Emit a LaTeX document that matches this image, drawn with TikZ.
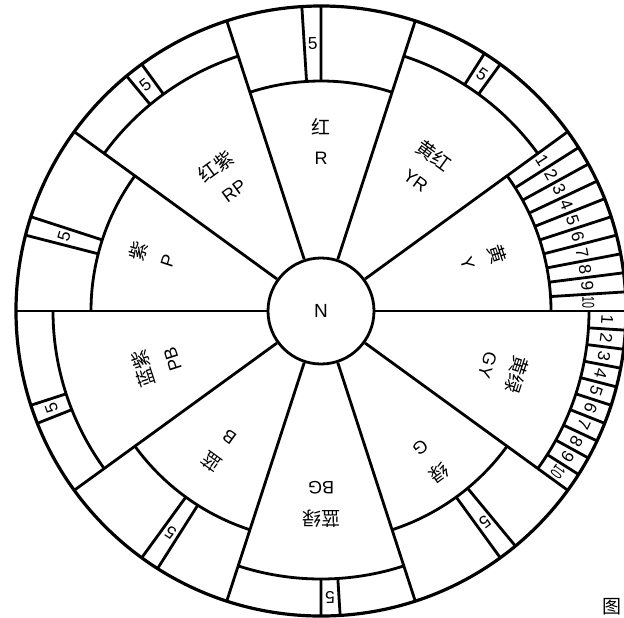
\documentclass[tikz,border=0pt]{standalone}
\usepackage{fontspec}
\setmainfont{Liberation Sans}
\newfontfamily\cjk{Noto Sans CJK SC}
\usetikzlibrary{calc}
\newcommand{\cellnum}[1]{\ifnum#1=10 \scalebox{0.62}[1]{10}\else #1\fi}

\begin{document}
\begin{tikzpicture}[x=0.5pt,y=0.5pt,
  rim/.style={line width=1.6pt},
  edge/.style={line width=1.4pt},
  digit/.style={font=\fontsize{8.6}{9}\selectfont,inner sep=0pt},
  hue/.style={font=\fontsize{9}{9}\selectfont,inner sep=0pt},
  huecn/.style={font=\cjk\fontsize{9.5}{10}\selectfont,inner sep=0pt}]
  \useasboundingbox (-321,-306) rectangle (303,311);
  \clip (-321,-306) rectangle (303,311);
  % rim and neutral core
  \draw[rim] (0,0) circle (305);
  \node[draw,edge,circle,minimum size=53pt,inner sep=0pt,font=\fontsize{9.5}{9}\selectfont] (N) at (0,0) {N};
  \foreach \a in {0,36,...,324} \draw[edge] (N.\a) -- (\a:305);
  % hue sectors: centre / inner radius / label radius / names
  \foreach \c/\r/\l/\cn/\en in {18/230/169/黄/Y,54/268/176/黄红/YR,90/230/168/红/R,126/268/163/红紫/RP,
      162/230/176/紫/P,198/268/171/蓝紫/PB,234/230/171/蓝/B,270/268/192/蓝绿/BG,306/230/184/绿/G,342/268/190/黄绿/GY} {
    \draw[edge] ({\c-18}:\r) arc[start angle=\c-18,end angle=\c+18,radius=\r];
    \node[huecn,rotate=\c-90] (cn-\en) at (\c:{\l+16}) {\cn};
    \node[hue,rotate=\c-90] (en-\en) at (\c:{\l-15}) {\en};
  }
  % step 5 only
  \foreach \c/\r/\en in {54/268/YR,90/230/R,126/268/RP,162/230/P,198/268/PB,234/230/B,270/268/BG,306/230/G} {
    \draw[edge] (\c:\r) -- (\c:305) ({\c+3.6}:\r) -- ({\c+3.6}:305);
    \node[digit,rotate=\c-88.2] (five-\en) at ({\c+1.8}:{(\r+305)/2}) {5};
  }
  % full scales 1--10
  \foreach \c/\r/\en in {18/230/Y,342/268/GY} {
    \foreach \k in {1,...,10} {
      \ifnum\k<10 \draw[edge] ({\c+18-3.6*\k}:\r) -- ({\c+18-3.6*\k}:305);\fi
      \node[digit,rotate=\c-71.8-3.6*\k] (\en-\k) at ({\c+19.8-3.6*\k}:{(\r+305)/2}) {\cellnum{\k}};
    }
  }
  \node[huecn] (fig) at (291,-296) {图};
\end{tikzpicture}
\end{document}
